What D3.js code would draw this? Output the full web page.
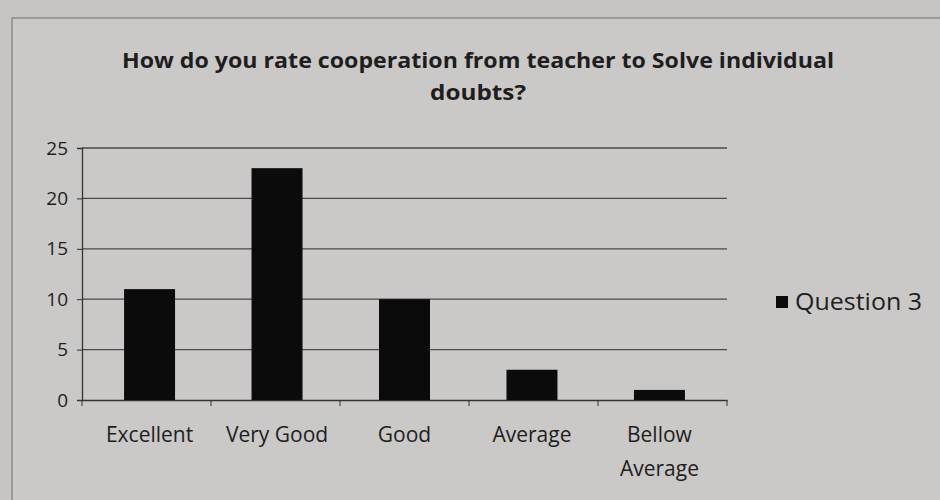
<!DOCTYPE html>
<html lang="en">
<head>
<meta charset="UTF-8">
<title>Question 3</title>
<script src="https://d3js.org/d3.v7.min.js"></script>
<style>
  body { margin: 0; background: #c6c3c3; }
  svg text { font-family: "Open Sans", "Liberation Sans", sans-serif; fill: #1e1e1e; }
</style>
</head>
<body>
<svg id="chart" width="940" height="500"></svg>
<script>
const categories = ["Excellent", "Very Good", "Good", "Average", "Bellow Average"];
const values = [11, 23, 10, 3, 1];
const yTicks = [0, 5, 10, 15, 20, 25];
const seriesName = "Question 3";
const titleLines = ["How do you rate cooperation from teacher to Solve individual", "doubts?"];

const svg = d3.select("#chart");
const margin = { left: 82, right: 213, top: 148, bottom: 100 };
const W = 940, H = 500;

// photo-ish background and chart frame
svg.append("rect").attr("width", W).attr("height", H).attr("fill", "#c7c4c4");
svg.append("rect").attr("x", 12).attr("y", 18).attr("width", 940).attr("height", 500)
  .attr("fill", "#cbc8c8").attr("stroke", "#8d8a8a").attr("stroke-width", 1.5);

const x = d3.scaleBand().domain(categories).range([margin.left, W - margin.right]).paddingInner(0.6).paddingOuter(0.33);
const y = d3.scaleLinear().domain([0, 25]).range([H - margin.bottom, margin.top]);

// gridlines
svg.append("g").selectAll("line").data(yTicks.filter(d => d > 0)).join("line")
  .attr("x1", margin.left).attr("x2", W - margin.right)
  .attr("y1", d => y(d)).attr("y2", d => y(d))
  .attr("stroke", "#4a4848").attr("stroke-width", 1.3);

// y axis
const yAxis = svg.append("g").attr("transform", `translate(${margin.left},0)`)
  .call(d3.axisLeft(y).tickValues(yTicks).tickSize(5).tickPadding(9));
yAxis.select(".domain").attr("stroke", "#333").attr("stroke-width", 1.3);
yAxis.selectAll(".tick line").attr("stroke", "#333");
yAxis.selectAll(".tick text").attr("font-size", 19).attr("fill", "#1e1e1e")
  .attr("font-family", "'Open Sans', sans-serif");

// x axis
const xAxis = svg.append("g").attr("transform", `translate(0,${y(0)})`)
  .call(d3.axisBottom(x).tickSizeOuter(0).tickSize(0).tickFormat(""));
xAxis.select(".domain").attr("stroke", "#333").attr("stroke-width", 1.3);
// category separator ticks
const seps = d3.range(categories.length + 1).map(i => margin.left + i * (W - margin.left - margin.right) / categories.length);
svg.append("g").selectAll("line").data(seps).join("line")
  .attr("x1", d => d).attr("x2", d => d)
  .attr("y1", y(0)).attr("y2", y(0) + 6)
  .attr("stroke", "#333");

// category labels
const labels = svg.append("g").selectAll("text").data(categories).join("text")
  .attr("x", d => x(d) + x.bandwidth() / 2)
  .attr("y", y(0) + 42)
  .attr("text-anchor", "middle")
  .attr("font-size", 21);
labels.each(function (d) {
  const parts = d === "Bellow Average" ? ["Bellow", "Average"] : [d];
  d3.select(this).selectAll("tspan").data(parts).join("tspan")
    .attr("x", x(d) + x.bandwidth() / 2)
    .attr("dy", (p, i) => i === 0 ? 0 : 34)
    .text(p => p);
});

// bars
svg.append("g").selectAll("rect").data(values).join("rect")
  .attr("x", (d, i) => x(categories[i]))
  .attr("y", d => y(d))
  .attr("width", x.bandwidth())
  .attr("height", d => y(0) - y(d))
  .attr("fill", "#0b0b0b");

// title (first line stretched to the photographed width)
const title = svg.append("g").attr("font-size", 21).attr("font-weight", "bold");
title.append("text").attr("x", 478).attr("y", 68).attr("text-anchor", "middle")
  .attr("textLength", 712).attr("lengthAdjust", "spacingAndGlyphs").text(titleLines[0]);
title.append("text").attr("x", 478).attr("y", 100).attr("text-anchor", "middle")
  .attr("textLength", 96).attr("lengthAdjust", "spacingAndGlyphs").text(titleLines[1]);

// legend
const lg = svg.append("g").attr("transform", "translate(776,302)");
lg.append("rect").attr("x", 0).attr("y", -6).attr("width", 12).attr("height", 12).attr("fill", "#0b0b0b");
lg.append("text").attr("x", 19).attr("y", 0).attr("dy", "0.35em").attr("font-size", 23)
  .attr("textLength", 127).attr("lengthAdjust", "spacingAndGlyphs").text(seriesName);
</script>
</body>
</html>
